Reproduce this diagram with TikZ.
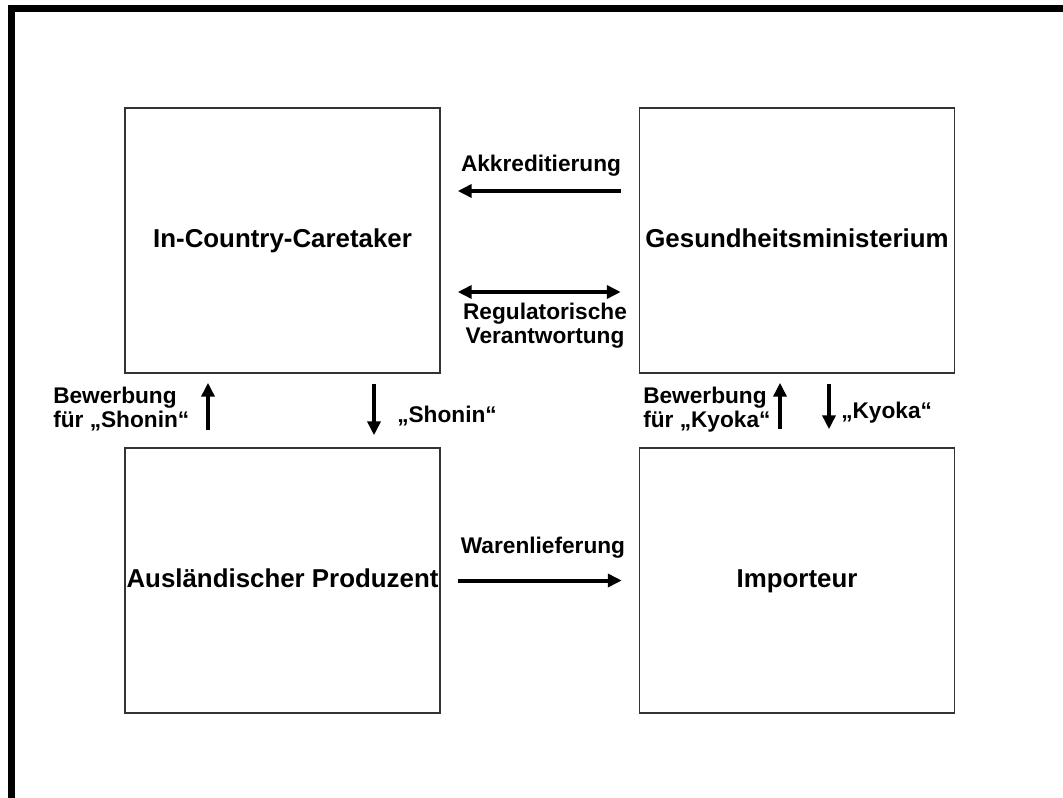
\documentclass[tikz,border=0pt]{standalone}
\usepackage{fontspec}
\setmainfont{Liberation Sans}
\usetikzlibrary{arrows.meta}
\begin{document}
\begin{tikzpicture}[x=0.75pt,y=-0.75pt,
  party/.style={draw=black!80, line width=1.1pt, minimum width=236.25pt,
    minimum height=198.75pt, inner sep=0pt,
    font=\fontsize{19.4}{22}\selectfont\bfseries,
    text height=14.5pt, text depth=4pt},
  lbl/.style={inner sep=0pt, font=\fontsize{17}{18}\selectfont\bfseries},
  flow/.style={line width=3pt, -{Triangle[length=10.5pt,width=9.75pt]}},
  flowboth/.style={line width=3pt, {Triangle[length=10.5pt,width=9.75pt]}-{Triangle[length=10.5pt,width=9.75pt]}}
]
% page area and the outer frame
\useasboundingbox (0,0) rectangle (1063,798);
\clip (0,0) rectangle (1063,798);
\draw[line width=5.25pt] (11.5,9) rectangle (1200,900);

% the four parties
\node[party] (tl) at (282.5,240.5) {In-Country-Caretaker};
\node[party] (tr) at (797,240.5) {Gesundheitsministerium};
\node[party] (bl) at (282.5,580.5) {Ausländischer Produzent};
\node[party] (br) at (797,580.5) {Importeur};

% helper rows and columns for the connectors
\coordinate (ya) at (0,191);
\coordinate (yr) at (0,292);
\coordinate (xa) at (208,0);
\coordinate (xb) at (374,0);
\coordinate (xc) at (780,0);
\coordinate (xd) at (829,0);

% connectors
\draw[flow, shorten <=13.5pt, shorten >=12.75pt] (tr.west |- ya) -- (tl.east |- ya);
\draw[flowboth, shorten <=12.75pt, shorten >=13.5pt] (tl.east |- yr) -- (tr.west |- yr);
\draw[flow, shorten <=12.75pt, shorten >=12.75pt] (bl.east) -- (br.west);
\draw[flow, shorten <=12.75pt, shorten >=6.75pt] (bl.north -| xa) -- (tl.south -| xa);
\draw[flow, shorten <=7.5pt, shorten >=9pt] (tl.south -| xb) -- (bl.north -| xb);
\draw[flow, shorten <=13.5pt, shorten >=6.75pt] (br.north -| xc) -- (tr.south -| xc);
\draw[flow, shorten <=7.5pt, shorten >=13.5pt] (tr.south -| xd) -- (br.north -| xd);

% connector labels
\node[lbl, anchor=base] (akk) at (541,172) {Akkreditierung};
\node[lbl, anchor=north, align=center] (reg) at (545,302.4) {Regulatorische\\Verantwortung};
\node[lbl, anchor=base] (war) at (543,553) {Warenlieferung};
\node[lbl, anchor=north west, align=left] (bs) at (53,386.4) {Bewerbung\\für „Shonin“};
\node[lbl, anchor=north west, align=left] (bk) at (643,386.4) {Bewerbung\\für „Kyoka“};
\node[lbl, anchor=base west] (sh) at (397,422) {„Shonin“};
\node[lbl, anchor=base west] (ky) at (841,418) {„Kyoka“};
\end{tikzpicture}
\end{document}
